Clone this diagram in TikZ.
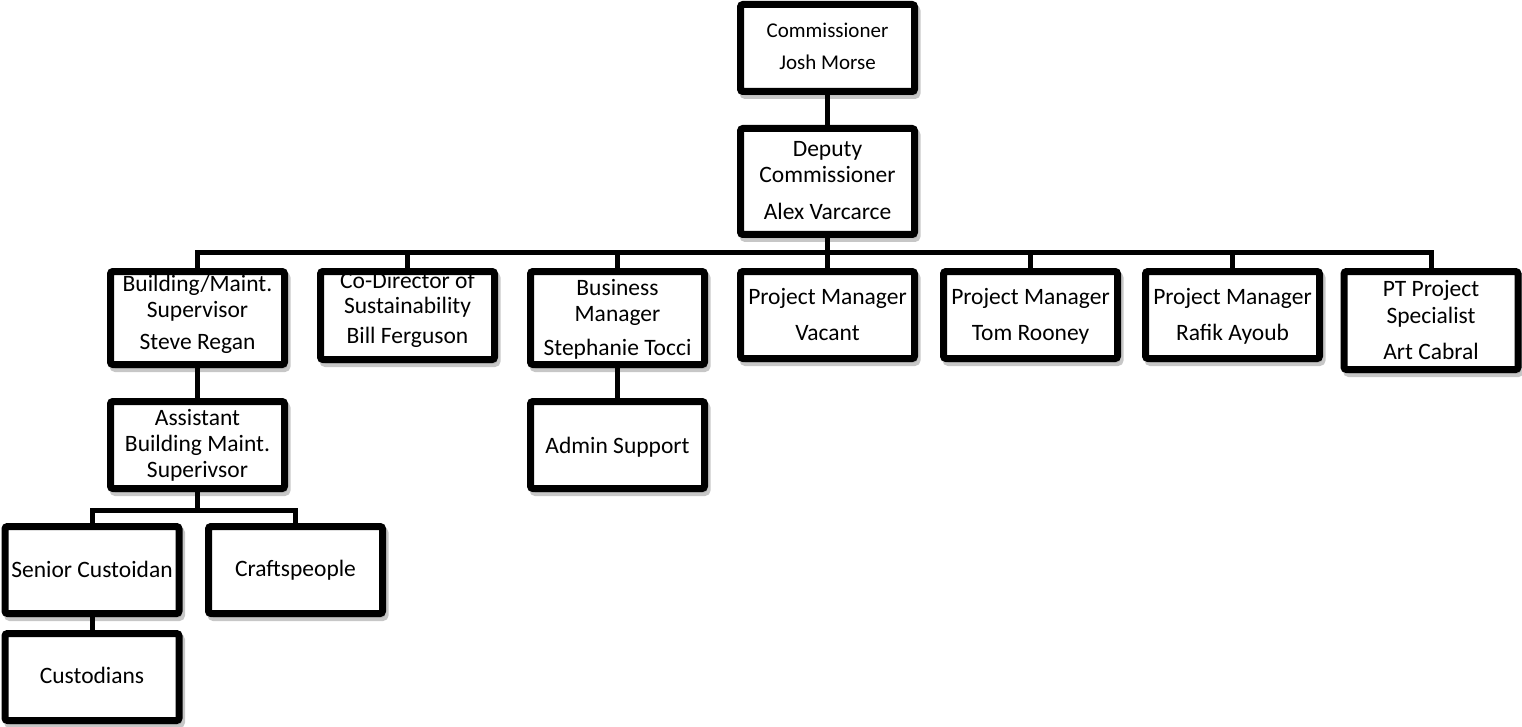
\documentclass[tikz,border=0pt]{standalone}
\usepackage{fontspec}
\setmainfont{Carlito}
\usetikzlibrary{shadows}
\newcommand{\orgline}[1]{\hbox to \hsize{\hfil\vrule height 18pt depth 6pt width 0pt\relax #1\hfil}}
\newcommand{\orgtext}[3]{\vbox to #2{\hsize=#1\relax\baselineskip=26pt\lineskiplimit=-100pt\lineskip=0pt\relax #3\vfil}}
\tikzset{
  orgbox/.style={shape=rectangle, draw=black, line width=7pt, fill=white,
    rounded corners=2.5pt, inner sep=0pt,
    drop shadow={shadow xshift=2.5pt, shadow yshift=-4pt, opacity=0.22, draw=black, line width=7pt},
    font=\fontsize{23.5}{26}\selectfont},
  conn/.style={draw=black, line width=5pt},
}
\begin{document}
\begin{tikzpicture}[x=1pt,y=-1pt]
\useasboundingbox (0,0) rectangle (1522,727);

% top
\node[orgbox, font=\fontsize{21}{24}\selectfont] (comm) at (827.5,48)
  {\orgtext{174pt}{87pt}{\vskip15.5pt\orgline{Commissioner}\vskip6pt\orgline{Josh Morse}}};
\node[orgbox] (dep) at (827.5,181.5)
  {\orgtext{174pt}{106pt}{\vskip10.5pt\orgline{Deputy}\orgline{Commissioner}\vskip11pt\orgline{Alex Varcarce}}};

% second row
\node[orgbox] (bldg) at (197.5,318)
  {\orgtext{174pt}{93pt}{\vskip2pt\orgline{Building/Maint.}\orgline{Supervisor}\vskip6pt\orgline{Steve Regan}}};
\node[orgbox] (codir) at (407.5,315.5)
  {\orgtext{174pt}{88pt}{\vskip-1pt\orgline{Co-Director of}\vskip-1pt\orgline{Sustainability}\vskip4pt\orgline{Bill Ferguson}}};
\node[orgbox] (busmgr) at (617.5,318)
  {\orgtext{174pt}{93pt}{\vskip5.5pt\orgline{Business}\orgline{Manager}\vskip8pt\orgline{Stephanie Tocci}}};
\node[orgbox] (pmv) at (827.5,315)
  {\orgtext{174pt}{87pt}{\vskip14.5pt\orgline{Project Manager}\vskip10pt\orgline{Vacant}}};
\node[orgbox] (tom) at (1030.5,315)
  {\orgtext{174pt}{87pt}{\vskip14.5pt\orgline{Project Manager}\vskip10pt\orgline{Tom Rooney}}};
\node[orgbox] (rafik) at (1232.5,315)
  {\orgtext{174pt}{87pt}{\vskip14.5pt\orgline{Project Manager}\vskip10pt\orgline{Rafik Ayoub}}};
\node[orgbox] (pt) at (1431,320.5)
  {\orgtext{174pt}{98pt}{\vskip6.5pt\orgline{PT Project}\vskip1pt\orgline{Specialist}\vskip10pt\orgline{Art Cabral}}};

% third row
\node[orgbox] (asst) at (197.5,445)
  {\orgtext{174pt}{87pt}{\vskip5.5pt\orgline{Assistant}\orgline{Building Maint.}\orgline{Superivsor}}};
\node[orgbox] (admin) at (617.5,445)
  {\orgtext{174pt}{87pt}{\vskip33.5pt\orgline{Admin Support}}};

% fourth / fifth rows
\node[orgbox] (senior) at (92,570)
  {\orgtext{174pt}{87pt}{\vskip32.5pt\orgline{Senior Custoidan}}};
\node[orgbox] (craft) at (295.5,570)
  {\orgtext{174pt}{87pt}{\vskip31.5pt\orgline{Craftspeople}}};
\node[orgbox] (cust) at (92,677)
  {\orgtext{174pt}{87pt}{\vskip31.5pt\orgline{Custodians}}};

% connectors
\draw[conn] (comm.south) -- (dep.north);
\foreach \c in {bldg,codir,busmgr,pmv,tom,rafik,pt}
  \draw[conn] (dep.south) -- ++(0,15) -| (\c.north);
\draw[conn] (bldg.south) -- (asst.north);
\draw[conn] (busmgr.south) -- (admin.north);
\foreach \c in {senior,craft}
  \draw[conn] (asst.south) -- ++(0,18) -| (\c.north);
\draw[conn] (senior.south) -- (cust.north);
\end{tikzpicture}
\end{document}
